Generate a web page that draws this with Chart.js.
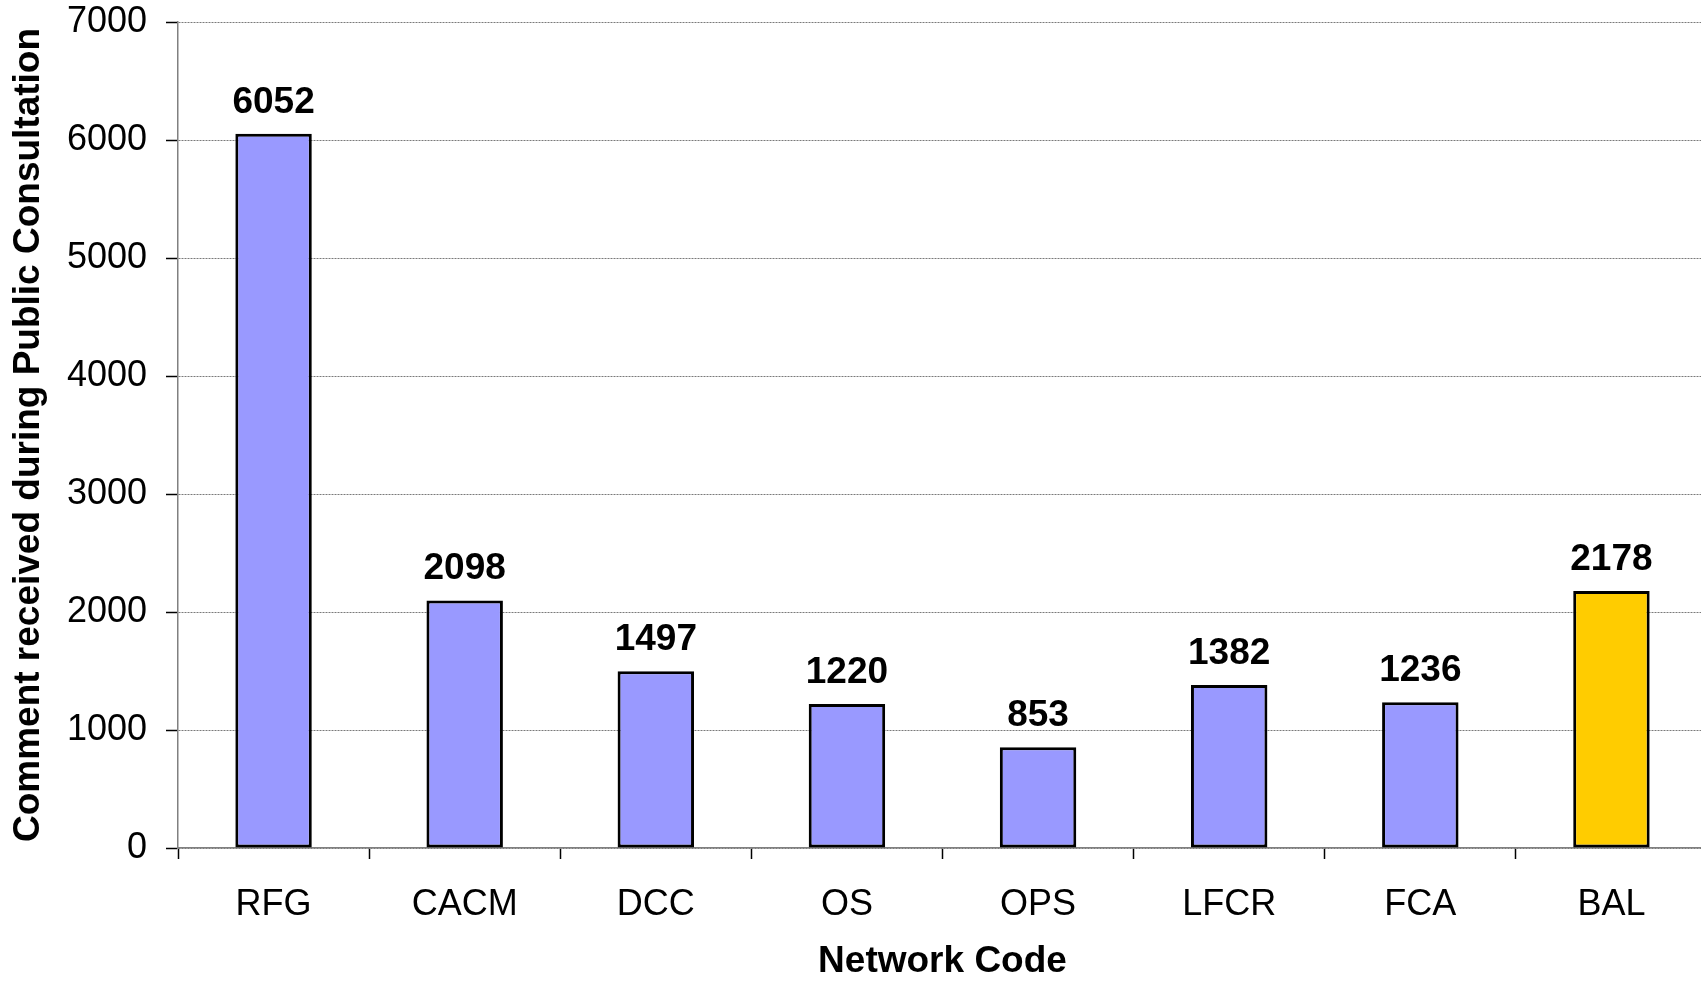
<!DOCTYPE html>
<html>
<head>
<meta charset="utf-8">
<script src="https://cdn.jsdelivr.net/npm/chart.js@4"></script>
<style>
  html, body { margin: 0; padding: 0; background: #fff; overflow: hidden; }
  #wrap { width: 1707px; height: 981px; }
</style>
</head>
<body>
<div id="wrap"><canvas id="commentsChart"></canvas></div>
<script>
const categories = ['RFG', 'CACM', 'DCC', 'OS', 'OPS', 'LFCR', 'FCA', 'BAL'];
const comments = [6052, 2098, 1497, 1220, 853, 1382, 1236, 2178];
const yTicks = [0, 1000, 2000, 3000, 4000, 5000, 6000, 7000];
const highlighted = 'BAL';

const ctx = document.getElementById('commentsChart');
const font = 'Liberation Sans, Arial, sans-serif';

// values above the bars
const valueLabels = {
    id: 'valueLabels',
    afterDatasetsDraw(chart) {
        const c = chart.ctx;
        const meta = chart.getDatasetMeta(0);
        c.save();
        c.font = 'bold 37px ' + font;
        c.fillStyle = '#000';
        c.textAlign = 'center';
        c.textBaseline = 'alphabetic';
        meta.data.forEach((bar, i) => {
            c.fillText(String(comments[i]), bar.x, bar.y - 21);
        });
        c.restore();
    }
};

new Chart(ctx, {
    type: 'bar',
    data: {
        labels: categories,
        datasets: [{
            label: 'Comments',
            data: comments,
            backgroundColor: categories.map(c => c === highlighted ? '#FFCC00' : '#9999FF'),
            borderColor: '#000',
            borderWidth: 3,
            borderSkipped: false,
            barPercentage: 0.4,
            categoryPercentage: 1
        }]
    },
    options: {
        responsive: true,
        maintainAspectRatio: false,
        animation: false,
        layout: { padding: { top: 22, right: 0, bottom: 0, left: 0 } },
        plugins: {
            legend: { display: false },
            tooltip: { enabled: false }
        },
        scales: {
            x: {
                grid: {
                    drawOnChartArea: false,
                    tickLength: 11,
                    tickColor: '#000',
                    tickWidth: 1.5
                },
                border: { color: '#808080', width: 1.5 },
                ticks: {
                    color: '#000',
                    padding: 24,
                    font: { family: font, size: 36 }
                },
                title: {
                    display: true,
                    text: 'Network Code',
                    color: '#000',
                    padding: { top: 0, bottom: -3 },
                    font: { family: font, size: 37, weight: 'bold' }
                },
                afterFit(scale) { scale.height = 133; }
            },
            y: {
                min: 0,
                max: 7000,
                afterBuildTicks(scale) { scale.ticks = yTicks.map(v => ({ value: v })); },
                grid: {
                    color: '#7a7a7a',
                    lineWidth: 1,
                    tickLength: 12,
                    tickColor: '#000',
                    tickWidth: 1.5
                },
                border: { color: '#808080', width: 1.5, dash: [2, 1] },
                ticks: {
                    color: '#000',
                    padding: 19,
                    font: { family: font, size: 36, lineHeight: 1 },
                    callback: v => String(v)
                },
                title: {
                    display: true,
                    text: 'Comment received during Public Consultation',
                    color: '#000',
                    padding: { top: 7, bottom: 0 },
                    font: { family: font, size: 37, weight: 'bold' }
                },
                afterFit(scale) {
                    scale.width = 178;
                    scale.paddingTop = 0;
                    scale.paddingBottom = 0;
                }
            }
        }
    },
    plugins: [valueLabels]
});
</script>
</body>
</html>
